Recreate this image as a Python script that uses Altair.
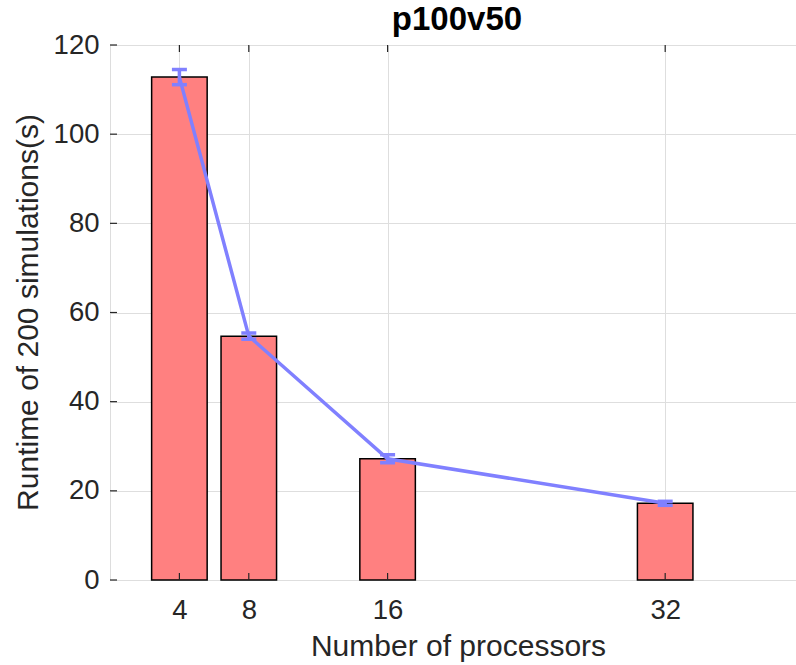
import altair as alt
import pandas as pd

# Data
procs = [4, 8, 16, 32]
runtime = [112.8, 54.7, 27.2, 17.2]
err = [1.7, 0.7, 0.9, 0.45]
x_ticks = [4, 8, 16, 32]
y_ticks = [0, 20, 40, 60, 80, 100, 120]

df = pd.DataFrame({"procs": procs, "runtime": runtime, "err": err})
df["lo"] = df["runtime"] - df["err"]
df["hi"] = df["runtime"] + df["err"]
df["xl"] = df["procs"] - 1.6
df["xr"] = df["procs"] + 1.6

FONT = "Liberation Sans"
TXT = "#262626"
LINE = "#8080FF"

xscale = alt.Scale(domain=[0, 39.54], nice=False, zero=False)
yscale = alt.Scale(domain=[0, 120], nice=False)

xaxis = alt.Axis(values=x_ticks, title="Number of processors", grid=True, gridColor="#dedede",
                 gridWidth=1, tickSize=0, domain=False, labelFont=FONT, labelFontSize=27.5,
                 labelColor=TXT, labelPadding=38, labelBaseline="alphabetic",
                 titleFont=FONT, titleFontSize=30, titleFontWeight="normal", titleColor=TXT,
                 titleX=348, titleY=75, titleBaseline="alphabetic", titleAnchor="start", titleAlign="center")
yaxis = alt.Axis(values=y_ticks, title="Runtime of 200 simulations(s)", grid=True, gridColor="#dedede",
                 gridWidth=1, tickSize=0, domain=False, labelFont=FONT, labelFontSize=27.5,
                 labelColor=TXT, labelPadding=11, labelBaseline="middle",
                 titleFont=FONT, titleFontSize=30, titleFontWeight="normal", titleColor=TXT,
                 titleX=-73, titleY=267, titleAngle=270, titleBaseline="alphabetic",
                 titleAlign="center", titleAnchor="start")

base = alt.Chart(df)

bars = base.mark_rect(fill="#FF8080", stroke="black", strokeWidth=1.5).encode(
    x=alt.X("xl:Q", scale=xscale, axis=xaxis),
    x2="xr:Q",
    y=alt.Y("runtime:Q", scale=yscale, axis=yaxis),
    y2=alt.datum(0),
)

line = base.mark_line(color=LINE, strokeWidth=3.5).encode(
    x=alt.X("procs:Q", scale=xscale),
    y=alt.Y("runtime:Q", scale=yscale),
)

erule = base.mark_rule(color=LINE, strokeWidth=3.5).encode(
    x=alt.X("procs:Q", scale=xscale),
    y=alt.Y("lo:Q", scale=yscale),
    y2="hi:Q",
)
cap_lo = base.mark_tick(color=LINE, orient="horizontal", size=15, thickness=3.5, opacity=1).encode(
    x=alt.X("procs:Q", scale=xscale),
    y=alt.Y("lo:Q", scale=yscale),
)
cap_hi = base.mark_tick(color=LINE, orient="horizontal", size=15, thickness=3.5, opacity=1).encode(
    x=alt.X("procs:Q", scale=xscale),
    y=alt.Y("hi:Q", scale=yscale),
)

xt = pd.DataFrame({"v": x_ticks})
yt = pd.DataFrame({"v": y_ticks})

tick_bottom = alt.Chart(xt).mark_rule(color=TXT, strokeWidth=1.2).encode(
    x=alt.X("v:Q", scale=xscale), y=alt.value(535), y2=alt.value(528))
tick_top = alt.Chart(xt).mark_rule(color=TXT, strokeWidth=1.2).encode(
    x=alt.X("v:Q", scale=xscale), y=alt.value(0), y2=alt.value(7))
tick_left = alt.Chart(yt).mark_rule(color=TXT, strokeWidth=1.2).encode(
    y=alt.Y("v:Q", scale=yscale), x=alt.value(0), x2=alt.value(7))

chart = alt.layer(bars, line, erule, cap_lo, cap_hi, tick_bottom, tick_top, tick_left).properties(
    width=686, height=535,
    title=alt.TitleParams("p100v50", font=FONT, fontSize=33, fontWeight="bold", color="black",
                          anchor="middle", dx=4, dy=44, offset=12, baseline="alphabetic"),
    autosize=alt.AutoSizeParams(type="none"),
    padding={"left": 110, "top": 45, "right": 0, "bottom": 85},
).configure_view(stroke=TXT, strokeWidth=1.2).configure(background="white")

chart.save("out.html", embed_options={"renderer": "svg", "actions": False})
